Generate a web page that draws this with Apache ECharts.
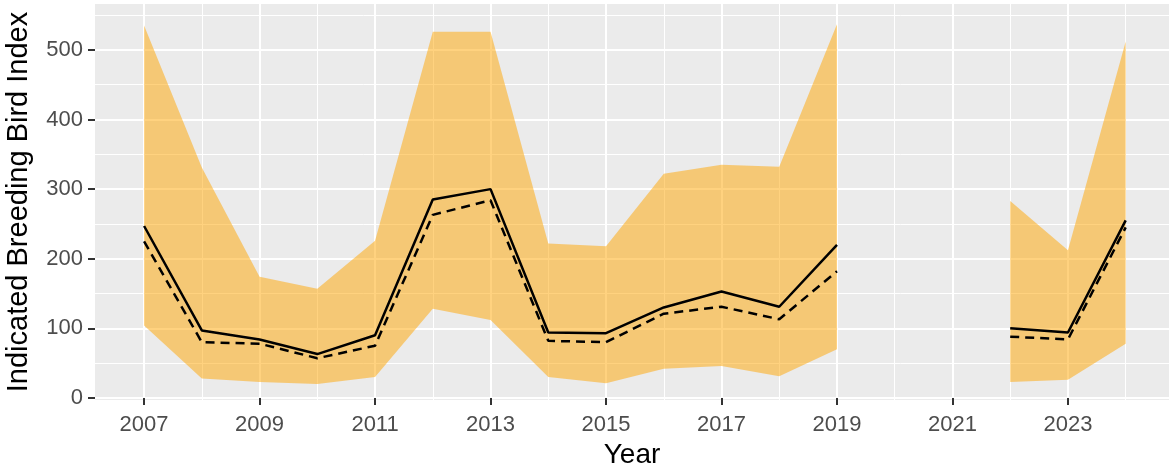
<!DOCTYPE html>
<html>
<head>
<meta charset="utf-8">
<script src="https://cdn.jsdelivr.net/npm/echarts@6/dist/echarts.min.js"></script>
<style>
  html, body { margin: 0; padding: 0; background: #ffffff; }
  #chart { width: 1169px; height: 471px; }
</style>
</head>
<body>
<div id="chart"></div>
<script>
// Survey years (2020 and 2021 have no survey)
const years = [2007, 2008, 2009, 2010, 2011, 2012, 2013, 2014, 2015, 2016, 2017, 2018, 2019, 2020, 2021, 2022, 2023, 2024];
// Indicated breeding bird index (solid line)
const indexValues = [247, 97, 84, 63, 90, 285, 300, 94, 93, 130, 153, 131, 220, null, null, 100, 94, 255];
// Alternative estimate (dashed line)
const altValues = [225, 80, 78, 57, 75, 263, 284, 82, 80, 121, 131, 113, 182, null, null, 88, 84, 245];
// Confidence band
const upperValues = [535, 331, 174, 157, 226, 526, 526, 222, 218, 322, 335, 332, 537, null, null, 283, 212, 512];
const lowerValues = [104, 28, 23, 20, 30, 128, 112, 30, 21, 42, 46, 31, 70, null, null, 23, 26, 78];
// Axis ticks
const xMajorTicks = [2007, 2009, 2011, 2013, 2015, 2017, 2019, 2021, 2023];
const xMinorTicks = [2008, 2010, 2012, 2014, 2016, 2018, 2020, 2022, 2024];
const yMajorTicks = [0, 100, 200, 300, 400, 500];
const yMinorTicks = [50, 150, 250, 350, 450, 550];

const pairs = (vals) => years.map((y, i) => [y, vals[i] == null ? null : vals[i]]);
const bandRows = years.map((y, i) => [y, lowerValues[i], upperValues[i]]);
const hasBand = (i) => i >= 0 && i < years.length && lowerValues[i] != null && upperValues[i] != null;

// One polygon per unbroken run of years: upper edge forward, lower edge back
function renderBand(params, api) {
  const i = params.dataIndex;
  if (!hasBand(i) || hasBand(i - 1)) return null;
  let j = i;
  while (hasBand(j + 1)) j++;
  const points = [];
  for (let k = i; k <= j; k++) points.push(api.coord([years[k], upperValues[k]]));
  for (let k = j; k >= i; k--) points.push(api.coord([years[k], lowerValues[k]]));
  return {
    type: 'polygon',
    shape: { points },
    style: { fill: 'rgba(255,165,0,0.5)' },
    silent: true
  };
}

const X_MIN = 2006.15, X_MAX = 2024.75;
const Y_MIN = -3, Y_MAX = 566;
const FONT = '"Liberation Sans", Arial, sans-serif';

const chart = echarts.init(document.getElementById('chart'), null, { renderer: 'canvas' });

chart.setOption({
  animation: false,
  backgroundColor: '#ffffff',
  grid: {
    left: 95, right: 0, top: 4, bottom: 71,
    show: true, backgroundColor: '#EBEBEB', borderWidth: 0,
    containLabel: false, outerBoundsMode: 'none'
  },
  xAxis: [
    {
      type: 'value', min: X_MIN, max: X_MAX,
      name: 'Year', nameLocation: 'middle', nameGap: 40,
      nameTextStyle: { fontFamily: FONT, fontSize: 28, color: '#000000' },
      axisLine: { show: false },
      axisTick: { show: true, length: 7, customValues: xMajorTicks, lineStyle: { color: '#333333', width: 2 } },
      axisLabel: { customValues: xMajorTicks, margin: 14, fontFamily: FONT, fontSize: 22, color: '#4D4D4D',
        formatter: (v) => String(Math.round(v)) },
      splitLine: { show: true, lineStyle: { color: '#ffffff', width: 2 } }
    },
    {
      type: 'value', min: X_MIN, max: X_MAX, gridIndex: 0, position: 'bottom',
      axisLine: { show: false },
      axisTick: { show: false, customValues: xMinorTicks },
      axisLabel: { show: false, customValues: xMinorTicks },
      splitLine: { show: true, lineStyle: { color: '#ffffff', width: 1 } }
    }
  ],
  yAxis: [
    {
      type: 'value', min: Y_MIN, max: Y_MAX,
      name: 'Indicated Breeding Bird Index', nameLocation: 'middle', nameGap: 62,
      nameTextStyle: { fontFamily: FONT, fontSize: 29, color: '#000000' },
      axisLine: { show: false },
      axisTick: { show: true, length: 7, customValues: yMajorTicks, lineStyle: { color: '#333333', width: 2 } },
      axisLabel: { customValues: yMajorTicks, margin: 12, fontFamily: FONT, fontSize: 22, color: '#4D4D4D' },
      splitLine: { show: true, lineStyle: { color: '#ffffff', width: 2 } }
    },
    {
      type: 'value', min: Y_MIN, max: Y_MAX, gridIndex: 0, position: 'left',
      axisLine: { show: false },
      axisTick: { show: false, customValues: yMinorTicks },
      axisLabel: { show: false, customValues: yMinorTicks },
      splitLine: { show: true, lineStyle: { color: '#ffffff', width: 1 } }
    }
  ],
  series: [
    {
      name: 'Confidence band', type: 'custom', renderItem: renderBand,
      data: bandRows, encode: { x: 0, y: [1, 2] }, silent: true, z: 1
    },
    {
      name: 'Index', type: 'line', data: pairs(indexValues),
      symbol: 'none', connectNulls: false, z: 3,
      lineStyle: { color: '#000000', width: 2.5 }
    },
    {
      name: 'Alternative', type: 'line', data: pairs(altValues),
      symbol: 'none', connectNulls: false, z: 3,
      lineStyle: { color: '#000000', width: 2.5, type: [9, 6] }
    }
  ]
});
</script>
</body>
</html>
